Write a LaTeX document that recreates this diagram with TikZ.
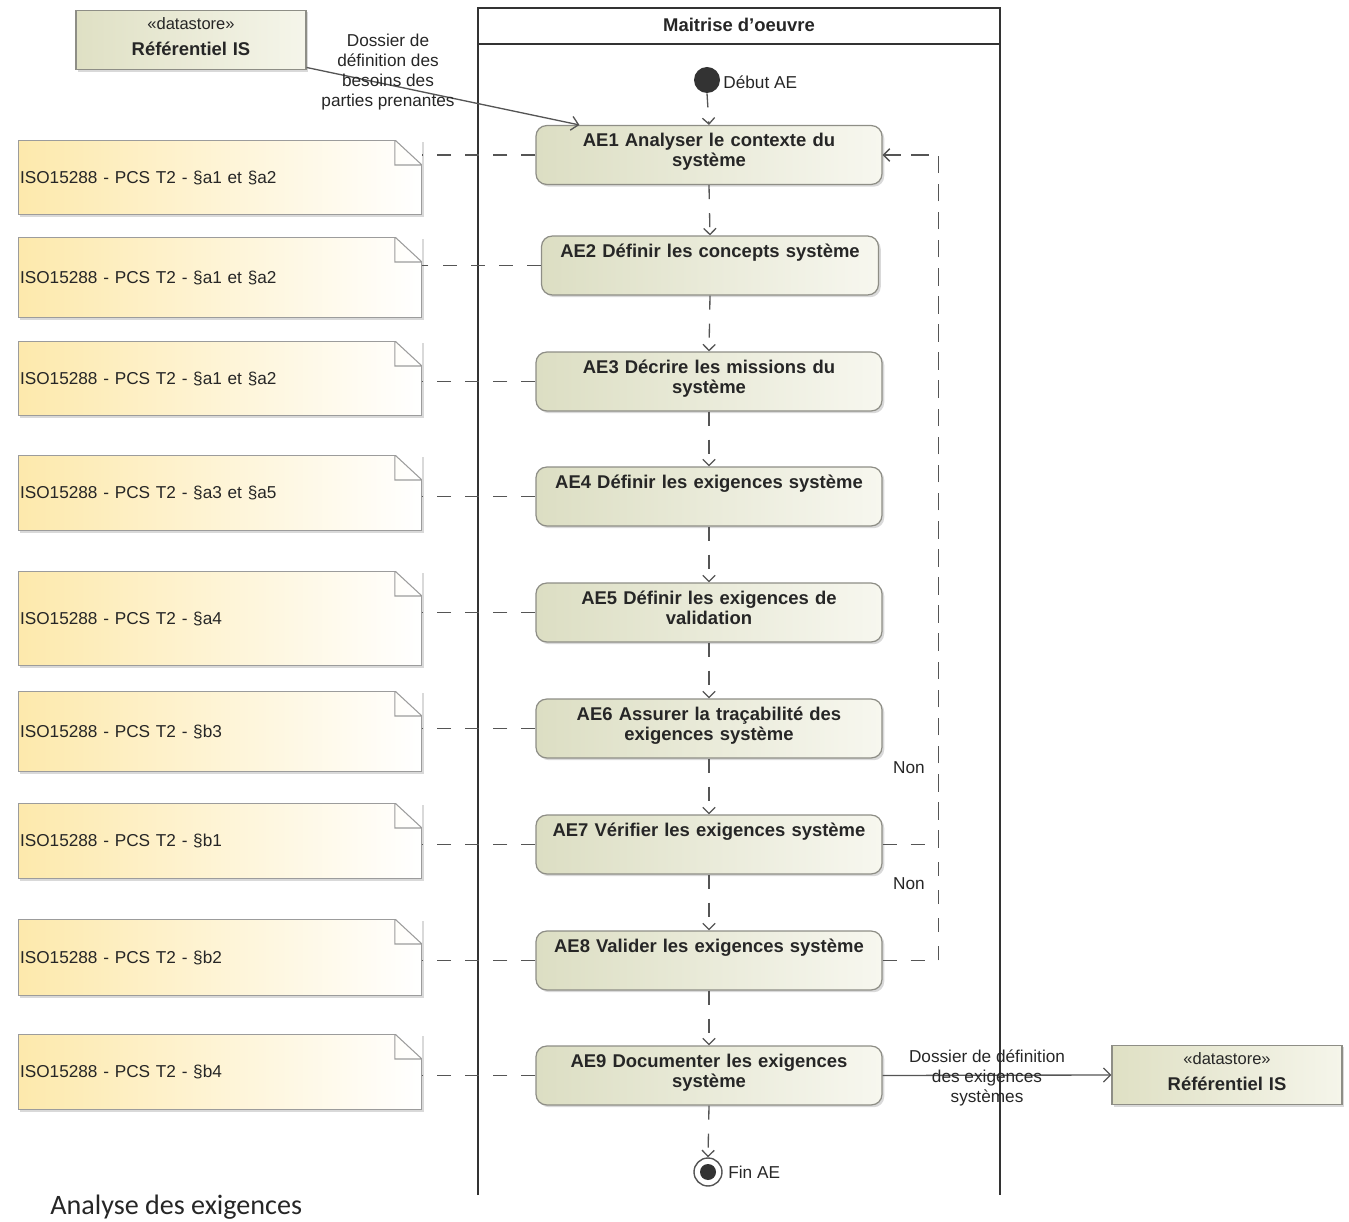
\documentclass[tikz,border=0pt]{standalone}
\usepackage{fontspec}
\setmainfont{Liberation Sans}
\newfontfamily\captionfont{Carlito}
\usepackage{tikz}
\usetikzlibrary{arrows.meta, shadows}
\definecolor{actleft}{HTML}{DCDEC3}
\definecolor{actright}{HTML}{F7F7EF}
\definecolor{actborder}{HTML}{8E8E86}
\definecolor{dsleft}{HTML}{DFE0C4}
\definecolor{dsright}{HTML}{F5F5EA}
\definecolor{noteyellow}{HTML}{FDE9AC}
\definecolor{noteborder}{HTML}{9C9C9C}
\definecolor{flowgray}{HTML}{555555}
\definecolor{lanedark}{HTML}{333333}
\definecolor{txtdark}{HTML}{262626}
\tikzset{
  action/.style={draw=actborder, line width=0.7pt, rounded corners=6pt, left color=actleft, right color=actright,
    minimum width=6.92cm, text width=6.6cm, align=center, inner xsep=2pt, inner ysep=0pt,
    text height=12pt, text depth=21.5pt, text=txtdark, font=\fontsize{10.5}{11.5}\selectfont\bfseries,
    drop shadow={shadow xshift=1.3pt, shadow yshift=-1.3pt, opacity=0.3}},
  isonote/.style={minimum width=8.08cm, text width=8.0cm, align=left, inner sep=0pt, left color=noteyellow, right color=white,
    text=txtdark, font=\fontsize{9.8}{11}\selectfont,
    drop shadow={shadow xshift=1.1pt, shadow yshift=-1.1pt, opacity=0.3},
    path picture={
      \draw[noteborder, line width=1.2pt] (path picture bounding box.south west) rectangle (path picture bounding box.north east);
      \fill[white] ([xshift=-0.54cm]path picture bounding box.north east) -- ([xshift=1pt,yshift=1pt]path picture bounding box.north east) -- ([yshift=-0.5cm]path picture bounding box.north east) -- cycle;
      \draw[noteborder, line width=0.6pt] ([xshift=-0.54cm]path picture bounding box.north east) |- ([yshift=-0.5cm]path picture bounding box.north east) -- cycle;
    }},
  datastore/.style={draw=actborder, line width=0.7pt, left color=dsleft, right color=dsright, minimum width=4.6cm,
    text width=4.4cm, align=center, inner xsep=2pt, inner ysep=0pt, text height=10.8pt, text depth=23.2pt,
    text=txtdark, drop shadow={shadow xshift=1.3pt, shadow yshift=-1.3pt, opacity=0.3}},
  initial/.style={circle, fill=lanedark, minimum size=0.52cm, inner sep=0pt},
  final/.style={circle, draw=flowgray, line width=0.8pt, fill=white, minimum size=0.56cm, inner sep=0pt,
    path picture={\fill[lanedark] (path picture bounding box.center) circle (0.16cm);}},
  lbl/.style={text=txtdark, font=\fontsize{9.8}{11.3}\selectfont, align=center, inner sep=0pt},
  ctrlflow/.style={draw=flowgray, line width=0.75pt, dash pattern=on 8pt off 8pt, -{Straight Barb[length=3.5pt, width=7pt]}},
  notelink/.style={draw=flowgray, line width=0.9pt, dash pattern=on 8pt off 8pt},
  dataflow/.style={draw=flowgray, line width=0.75pt, -{Straight Barb[length=4pt, width=8pt]}},
  lane/.style={draw=lanedark, line width=1.1pt}
}
\begin{document}
\begin{tikzpicture}[x=0.02cm, y=-0.02cm]
                \useasboundingbox (0,0) rectangle (1349,1222);
                \draw[lane] (478,1195) -- (478,8) -- (1000,8) -- (1000,1195);
                \draw[lane] (478,44) -- (1000,44);
                \node[text=txtdark, font=\fontsize{10.5}{12}\selectfont\bfseries] (lanetitle) at (739,25) {Maitrise d'oeuvre};
                \node[datastore] (ds1) at (191,40) {{\fontsize{9.4}{10}\selectfont «datastore»}\\[3pt]{\fontsize{10.5}{12}\selectfont\bfseries Référentiel IS}};
                \node[datastore] (ds2) at (1227,1075) {{\fontsize{9.4}{10}\selectfont «datastore»}\\[3pt]{\fontsize{10.5}{12}\selectfont\bfseries Référentiel IS}};
                \node[initial] (start) at (707,80) {};
                \node[lbl, anchor=west] (startlbl) at (723,82) {Début AE};
                \node[action] (ae1) at (709,155) {AE1 Analyser le contexte du\\système};
                \node[action, minimum width=6.72cm] (ae2) at (710,265.5) {AE2 Définir les concepts système};
                \node[action] (ae3) at (709,381.5) {AE3 Décrire les missions du\\système};
                \node[action] (ae4) at (709,496.5) {AE4 Définir les exigences système};
                \node[action] (ae5) at (709,612.5) {AE5 Définir les exigences de\\validation};
                \node[action] (ae6) at (709,728.5) {AE6 Assurer la traçabilité des\\exigences système};
                \node[action] (ae7) at (709,844.5) {AE7 Vérifier les exigences système};
                \node[action] (ae8) at (709,960.5) {AE8 Valider les exigences système};
                \node[action] (ae9) at (709,1075.5) {AE9 Documenter les exigences\\système};
                \node[final] (end) at (708,1172) {};
                \node[lbl, anchor=west] (endlbl) at (728,1172) {Fin AE};
                \node[isonote, minimum height=1.50cm] (n1) at (220,177.5) {ISO15288 - PCS T2 - §a1 et §a2};
                \node[isonote, minimum height=1.62cm] (n2) at (220,277.5) {ISO15288 - PCS T2 - §a1 et §a2};
                \node[isonote, minimum height=1.50cm] (n3) at (220,378.5) {ISO15288 - PCS T2 - §a1 et §a2};
                \node[isonote, minimum height=1.52cm] (n4) at (220,493) {ISO15288 - PCS T2 - §a3 et §a5};
                \node[isonote, minimum height=1.90cm] (n5) at (220,618.5) {ISO15288 - PCS T2 - §a4};
                \node[isonote, minimum height=1.62cm] (n6) at (220,731.5) {ISO15288 - PCS T2 - §b3};
                \node[isonote, minimum height=1.52cm] (n7) at (220,841) {ISO15288 - PCS T2 - §b1};
                \node[isonote, minimum height=1.54cm] (n8) at (220,957.5) {ISO15288 - PCS T2 - §b2};
                \node[isonote, minimum height=1.52cm] (n9) at (220,1072) {ISO15288 - PCS T2 - §b4};
                \draw[notelink] (ae1.west) -- (ae1.west -| n1.east);
                \draw[notelink] (ae2.west) -- (ae2.west -| n2.east);
                \draw[notelink] (ae3.west) -- (ae3.west -| n3.east);
                \draw[notelink] (ae4.west) -- (ae4.west -| n4.east);
                \draw[notelink] (ae5.west) -- (ae5.west -| n5.east);
                \draw[notelink] (ae6.west) -- (ae6.west -| n6.east);
                \draw[notelink] (ae7.west) -- (ae7.west -| n7.east);
                \draw[notelink] (ae8.west) -- (ae8.west -| n8.east);
                \draw[notelink] (ae9.west) -- (ae9.west -| n9.east);
                \draw[ctrlflow] (start.south) -- (ae1.north);
                \draw[ctrlflow] (ae1.south) -- (ae2.north);
                \draw[ctrlflow] (ae2.south) -- (ae3.north);
                \draw[ctrlflow] (ae3.south) -- (ae4.north);
                \draw[ctrlflow] (ae4.south) -- (ae5.north);
                \draw[ctrlflow] (ae5.south) -- (ae6.north);
                \draw[ctrlflow] (ae6.south) -- (ae7.north);
                \draw[ctrlflow] (ae7.south) -- (ae8.north);
                \draw[ctrlflow] (ae8.south) -- (ae9.north);
                \draw[ctrlflow] (ae9.south) -- (end.north);
                \draw[ctrlflow] (ae7.east) -- ++(56,0) |- (ae1.east);
                \draw[ctrlflow] (ae8.east) -- ++(56,0) |- (ae1.east);
                \node[lbl] (non7) at (909,768) {Non};
                \node[lbl] (non8) at (909,884) {Non};
                \draw[dataflow] ([yshift=0.06cm]ds1.south east) -- ([xshift=0.88cm]ae1.north west);
                \node[lbl] (flowin) at (388,72) {Dossier de\\définition des\\besoins des\\parties prenantes};
                \draw[dataflow] (ae9.east) -- (ds2.west);
                \node[lbl] (flowout) at (987,1078) {Dossier de définition\\des exigences\\systèmes};
                \node[text=txtdark, font=\captionfont\fontsize{16}{18}\selectfont, anchor=west, inner sep=0pt] (caption) at (50,1207) {Analyse des exigences};
            \end{tikzpicture}
\end{document}
